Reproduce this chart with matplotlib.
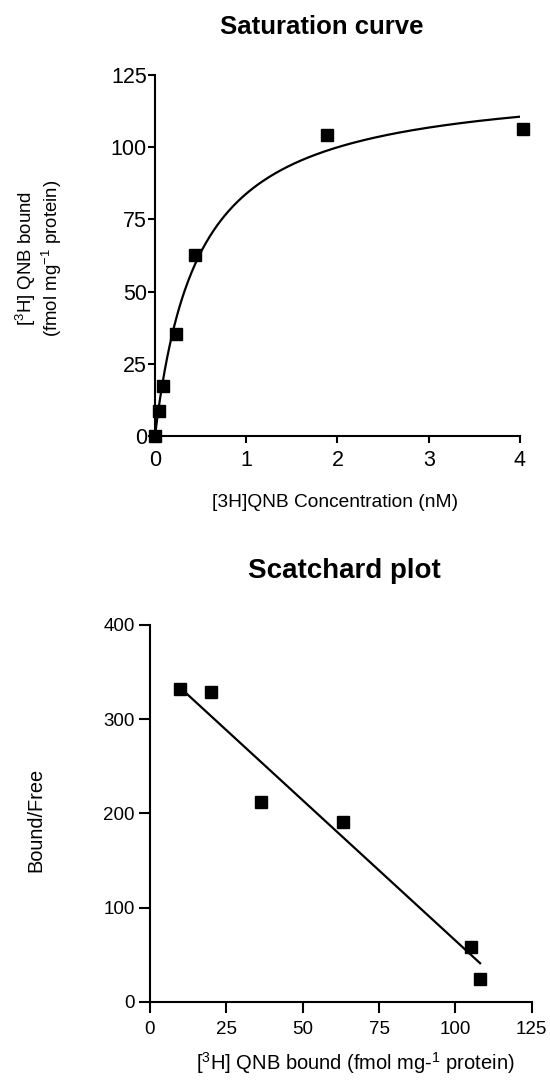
import numpy as np
import matplotlib
matplotlib.use("Agg")
import matplotlib.pyplot as plt

plt.rcParams['font.family'] = ['Liberation Sans', 'DejaVu Sans']
plt.rcParams['mathtext.fontset'] = 'custom'
plt.rcParams['mathtext.rm'] = 'Liberation Sans'
plt.rcParams['mathtext.it'] = 'Liberation Sans'

# saturation data: [3H]QNB (nM) vs bound (fmol/mg protein)
conc = [0.0, 0.044, 0.09, 0.227, 0.438, 1.89, 4.03]
bound = [0.0, 8.7, 17.4, 35.3, 62.7, 104.1, 106.5]
# one-site fit
Bmax = 123.7
Kd = 0.474

# scatchard data
sc_bound = [9.8, 19.9, 36.4, 63.3, 105.2, 108.1]
sc_ratio = [331.7, 329.0, 212.4, 191.2, 58.4, 24.1]
# regression line
sc_slope = -2.978
sc_icept = 362.8
sc_xrange = [10.9, 108.1]

fig = plt.figure(figsize=(5.5, 10.82), dpi=100)


def style(ax, size, ticklen, xpad, ypad):
    for s in ['top', 'right']:
        ax.spines[s].set_visible(False)
    for s in ['left', 'bottom']:
        ax.spines[s].set_linewidth(1.5)
    ax.tick_params(direction='out', length=ticklen, width=1.5, labelsize=size)
    ax.tick_params(axis='x', pad=xpad)
    ax.tick_params(axis='y', pad=ypad)


# ---- saturation curve
ax1 = fig.add_axes([0.2818, 0.597, 0.6636, 0.3336])
xc = np.linspace(0, 4, 300)
ax1.plot(xc, Bmax * xc / (Kd + xc), color='black', lw=1.6)
ax1.plot(conc, bound, 's', color='black', ms=8.5, clip_on=False)
ax1.set_xlim(0, 4)
ax1.set_ylim(0, 125)
ax1.set_xticks([0, 1, 2, 3, 4])
ax1.set_yticks([0, 25, 50, 75, 100, 125])
style(ax1, 15.5, 5, 5, 0.8)
ax1.set_xlabel('[3H]QNB Concentration (nM)', fontsize=13.8)
ax1.xaxis.set_label_coords(0.493, -0.16)
ax1.set_ylabel('[$^3$H] QNB bound\n(fmol mg$^{-1}$ protein)', fontsize=13.4,
               linespacing=1.1)
ax1.yaxis.set_label_coords(-0.25, 0.493)
fig.text(322 / 550, 1 - 27 / 1082, 'Saturation curve', ha='center', va='center',
         fontsize=18.5, fontweight='bold')

# ---- scatchard plot
ax2 = fig.add_axes([0.2727, 0.0742, 0.694, 0.3482])
xl = np.array(sc_xrange)
ax2.plot(xl, sc_slope * xl + sc_icept, color='black', lw=1.6)
ax2.plot(sc_bound, sc_ratio, 's', color='black', ms=9, clip_on=False)
ax2.set_xlim(0, 125)
ax2.set_ylim(0, 400)
ax2.set_xticks([0, 25, 50, 75, 100, 125])
ax2.set_yticks([0, 100, 200, 300, 400])
style(ax2, 13.5, 8, 6, 3)
ax2.set_xlabel('[$^3$H] QNB bound (fmol mg-$^1$ protein)', fontsize=14.5)
ax2.xaxis.set_label_coords(0.537, -0.128)
ax2.set_ylabel('Bound/Free', fontsize=14.4)
ax2.yaxis.set_label_coords(-0.275, 0.482)
fig.text(344 / 550, 1 - 571 / 1082, 'Scatchard plot', ha='center', va='center',
         fontsize=20, fontweight='bold')

fig.savefig('out.png', dpi=100)
